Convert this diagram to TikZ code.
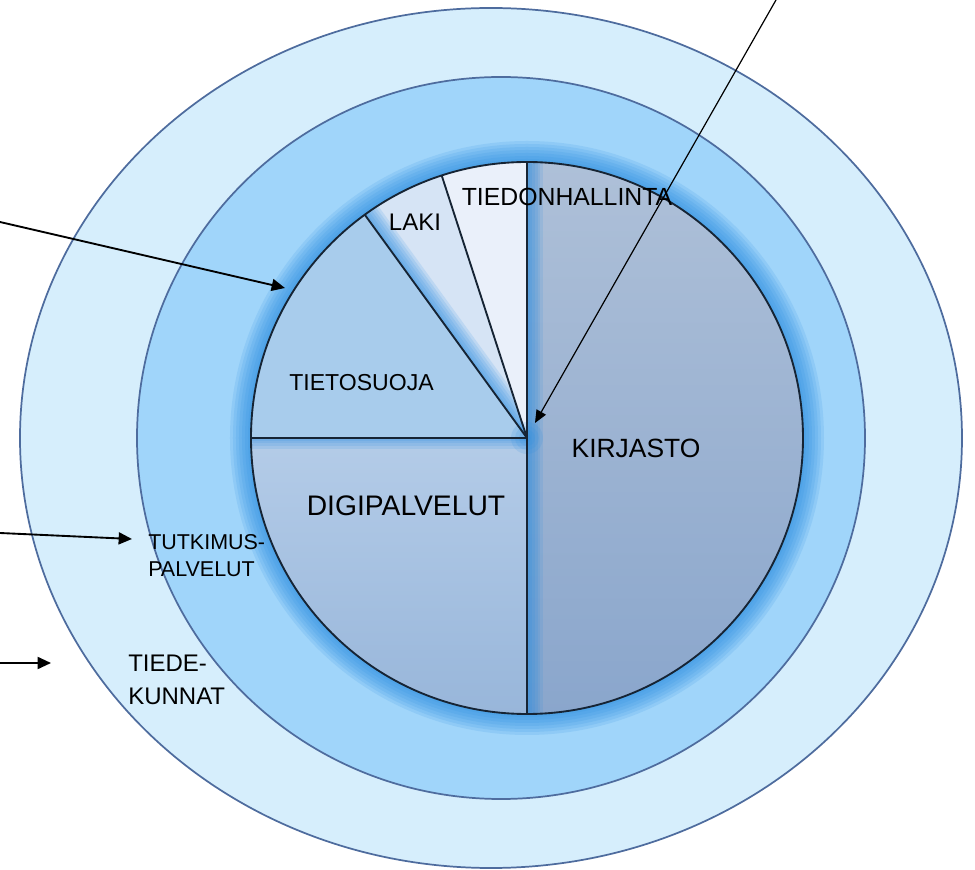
\documentclass[tikz,border=0pt]{standalone}
\usepackage{fontspec}
\setmainfont{Liberation Sans}
\usetikzlibrary{arrows.meta}

\definecolor{outerfill}{RGB}{214,238,252}
\definecolor{midfill}{RGB}{160,213,250}
\definecolor{ringedge}{RGB}{78,108,158}
\definecolor{glowblue}{RGB}{40,140,225}
\definecolor{sliceedge}{RGB}{22,36,52}
\definecolor{kirjtop}{RGB}{174,192,216}
\definecolor{kirjbot}{RGB}{138,166,204}
\definecolor{digitop}{RGB}{180,204,232}
\definecolor{digibot}{RGB}{152,182,218}
\definecolor{suojafill}{RGB}{168,204,236}
\definecolor{lakifill}{RGB}{214,228,245}
\definecolor{hallfill}{RGB}{234,240,250}

\begin{document}
\begin{tikzpicture}[x=0.75pt,y=0.75pt]
    \tikzstyle{ring}=[draw=ringedge,line width=1.3pt]
    \tikzstyle{slice}=[draw=sliceedge,line width=1.4pt,line join=round]
    \tikzstyle{glow}=[glowblue,opacity=0.14]
    \tikzstyle{label}=[inner sep=0pt,align=left]
    \tikzstyle{pointer}=[line width=1.4pt,-{Triangle[length=10pt,width=9pt]}]
    \tikzstyle{thinpointer}=[line width=0.9pt,-{Triangle[length=9.5pt,width=8pt]}]
    \useasboundingbox (-527,-432) rectangle (448,438);
    \path [ring,fill=outerfill] (-36,0) ellipse [x radius=471,y radius=430];
    \path [ring,fill=midfill] (-26,0) ellipse [x radius=364,y radius=361];
    \foreach \r in {3,6,...,21}
        \fill [glow] (0,0) circle [radius=276+\r];
    \shade [top color=kirjtop,bottom color=kirjbot] (0,0) -- (90:276) arc [start angle=90,end angle=-90,radius=276] -- cycle;
    \shade [top color=digitop,bottom color=digibot] (0,0) -- (180:276) arc [start angle=180,end angle=270,radius=276] -- cycle;
    \fill [suojafill] (0,0) -- (126:276) arc [start angle=126,end angle=180,radius=276] -- cycle;
    \fill [lakifill] (0,0) -- (108:276) arc [start angle=108,end angle=126,radius=276] -- cycle;
    \fill [hallfill] (0,0) -- (90:276) arc [start angle=90,end angle=108,radius=276] -- cycle;
    \begin{scope}
        \clip (0,0) -- (90:276) arc [start angle=90,end angle=-90,radius=276] -- cycle;
        \foreach \w in {4,8,...,24}
            \draw [glow,line width=\w] (0,-276) -- (0,276);
    \end{scope}
    \begin{scope}
        \clip (0,0) -- (108:276) arc [start angle=108,end angle=126,radius=276] -- cycle;
        \foreach \w in {4,8,...,24}
            \draw [glow,line width=\w] (0,0) -- (126:276);
    \end{scope}
    \begin{scope}
        \clip (0,0) -- (180:276) arc [start angle=180,end angle=270,radius=276] -- cycle;
        \foreach \w in {4,8,...,16}
            \draw [glow,line width=\w] (0,0) -- (180:276);
    \end{scope}
    \foreach \r in {4,8,...,16}
        \fill [glow] (0,0) circle [radius=\r];
    \draw [slice] (0,0) circle [radius=276];
    \draw [slice] (0,276) -- (0,-276);
    \draw [slice] (0,0) -- (180:276);
    \draw [slice] (0,0) -- (126:276);
    \draw [slice] (0,0) -- (108:276);
    \node (hallinta) at (40,241) [label,font=\fontsize{18.6}{22}\selectfont] {TIEDONHALLINTA};
    \node (laki) at (-112,216) [label,font=\fontsize{18}{22}\selectfont] {LAKI};
    \node (suoja) at (-165.5,55) [label,font=\fontsize{17.3}{21}\selectfont] {TIETOSUOJA};
    \node (kirjasto) at (109,-10) [label,font=\fontsize{19.8}{24}\selectfont] {KIRJASTO};
    \node (digi) at (-121,-68) [label,font=\fontsize{21.2}{25}\selectfont] {DIGIPALVELUT};
    \node (tutkimus) at (-379,-117.5) [label,anchor=west,font=\fontsize{16.1}{20.25}\selectfont] {TUTKIMUS-\\PALVELUT};
    \node (tiede) at (-399,-241.5) [label,anchor=west,font=\fontsize{18}{24.75}\selectfont] {TIEDE-\\KUNNAT};
    \coordinate (topstart) at (249,438);
    \coordinate (centre) at (8,15);
    \coordinate (glowstart) at (-527,216);
    \coordinate (glowedge) at (-242,150);
    \coordinate (tutkstart) at (-527,-95);
    \coordinate (tutkring) at (-395,-101);
    \coordinate (tiedestart) at (-527,-225);
    \coordinate (tiedering) at (-476,-225);
    \draw [thinpointer] (topstart) -- (centre);
    \draw [pointer] (glowstart) -- (glowedge);
    \draw [pointer] (tutkstart) -- (tutkring);
    \draw [pointer] (tiedestart) -- (tiedering);
\end{tikzpicture}
\end{document}
